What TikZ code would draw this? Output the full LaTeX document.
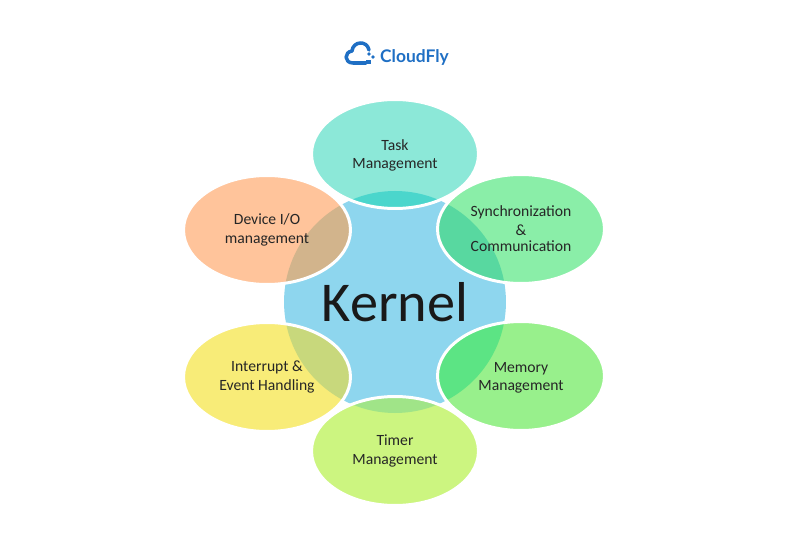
\documentclass[tikz,border=0pt]{standalone}
\usepackage{fontspec}
\setmainfont{Carlito}
\newfontfamily\logofont{Lato}
\usetikzlibrary{shapes.geometric}
\definecolor{logoblue}{HTML}{1F6FC4}
\definecolor{kernelblue}{HTML}{8ED6EE}
\definecolor{taskfill}{HTML}{8CE8D8}
\definecolor{taskmix}{HTML}{4BD6CC}
\definecolor{syncfill}{HTML}{8AEEA8}
\definecolor{syncmix}{HTML}{58D8A0}
\definecolor{memoryfill}{HTML}{98F08C}
\definecolor{memorymix}{HTML}{5CE484}
\definecolor{timerfill}{HTML}{CCF580}
\definecolor{timermix}{HTML}{A0E488}
\definecolor{interruptfill}{HTML}{F8EC78}
\definecolor{interruptmix}{HTML}{C8D87C}
\definecolor{devicefill}{HTML}{FFC49B}
\definecolor{devicemix}{HTML}{D2B48C}
\newcommand{\petaldrop}{\rule{0pt}{8pt}}
\tikzset{
  petal/.style={ellipse, draw=white, line width=1.7pt, fill=#1fill,
    path picture={\fill[#1mix] (kernel.center) circle (111);},
    inner sep=0pt, minimum width=3.34cm, minimum height=2.18cm, align=center, font=\fontsize{8.9}{10.4}\selectfont, text=black!85},
}
\begin{document}
\begin{tikzpicture}[x=0.02cm, y=-0.02cm]
    \useasboundingbox (0,0) rectangle (800,550);
    \node[circle, fill=kernelblue, inner sep=0pt, minimum size=4.44cm, font=\fontsize{32}{36}\selectfont, text=black!90] (kernel) at (395,302) {Kernel};

    \node[petal=task] (task) at (395,154) {\petaldrop Task\\Management};
    \node[petal=sync] (sync) at (521,229) {Synchronization\\\&\\[-1pt]Communication};
    \node[petal=memory] (memory) at (521,376) {\petaldrop Memory\\Management};
    \node[petal=timer] (timer) at (395,451) {Timer\\Management};
    \node[petal=interrupt] (interrupt) at (267,377) {Interrupt \&\\Event Handling};
    \node[petal=device] (device) at (267,230) {Device I/O\\management};

    % logo
    \draw[logoblue, line width=2pt, line cap=round, line join=round]
      (366,63) -- (353,63) .. controls (344,63) and (344,52) .. (352,51)
      .. controls (353,41) and (367,40) .. (369,50);
    \fill[logoblue] (366,64.5) -- (371,64.5) -- (371,60) -- (366,60) -- cycle;
    \fill[logoblue] (369,54) circle (1.8) (373,57) circle (1.8);
    \node[font=\logofont\bfseries\fontsize{9.9}{12}\selectfont, text=logoblue, inner sep=0pt] (logo) at (414.5,57.5) {CloudFly};
\end{tikzpicture}
\end{document}
